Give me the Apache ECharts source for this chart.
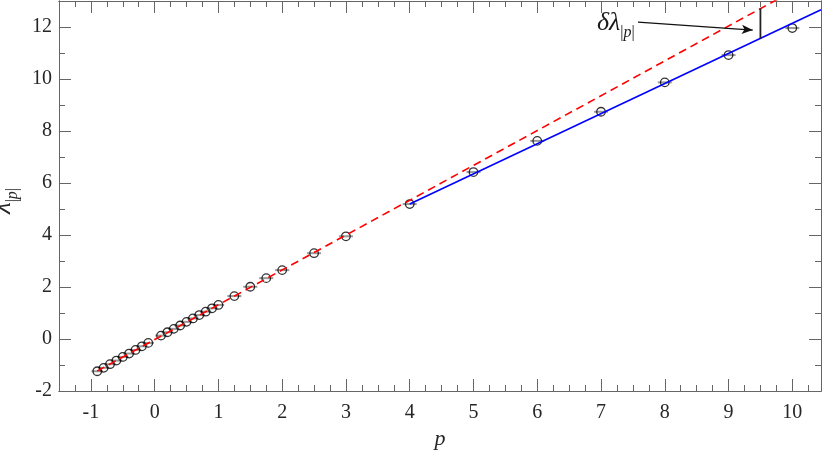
<!DOCTYPE html>
<html>
<head>
    <meta charset="UTF-8">
    <title></title>
    <style>
        html, body { margin: 0; padding: 0; background: #fff; }
        #container { width: 822px; height: 452px; }
    </style>
</head>
<body>
    <div id="container"></div>
    <script src="https://cdn.jsdelivr.net/npm/echarts@6/dist/echarts.min.js"></script>
    <script>
        // measured points
        var pValues = [-0.9, -0.8, -0.7, -0.6, -0.5, -0.4, -0.3, -0.2, -0.1,
            0.1, 0.2, 0.3, 0.4, 0.5, 0.6, 0.7, 0.8, 0.9, 1.0,
            1.25, 1.5, 1.75, 2, 2.5, 3,
            4, 5, 6, 7, 8, 9, 10];
        var lambdaValues = [-1.24, -1.11, -0.97, -0.83, -0.69, -0.56, -0.42, -0.28, -0.15,
            0.13, 0.26, 0.39, 0.52, 0.66, 0.79, 0.92, 1.05, 1.18, 1.31,
            1.65, 2.01, 2.34, 2.65, 3.30, 3.95,
            5.19, 6.42, 7.62, 8.74, 9.87, 10.92, 11.96];
        var pErrors = [0.09, 0.09, 0.09, 0.09, 0.09, 0.09, 0.09, 0.09, 0.09,
            0.09, 0.09, 0.09, 0.09, 0.09, 0.09, 0.09, 0.09, 0.09, 0.09,
            0.11, 0.11, 0.11, 0.11, 0.11, 0.11,
            0.11, 0.11, 0.11, 0.11, 0.11, 0.11, 0.11];

        // fits
        var redFitP = [-0.9, 10.45];
        var redFitLambda = [-1.23, 13.98];
        var blueFitP = [4, 10.45];
        var blueFitLambda = [5.19, 12.66];
        var deltaP = [9.5, 9.5];
        var deltaLambda = [11.56, 12.71];
        var arrowFrom = [7.58, 12.19];
        var arrowTo = [9.38, 11.88];

        // ticks
        var xTickLabels = [-1, 0, 1, 2, 3, 4, 5, 6, 7, 8, 9, 10];
        var yTickLabels = [-2, 0, 2, 4, 6, 8, 10, 12];
        var xMinorTicks = [];
        for (var t = -1.5; t <= 10.45; t += 0.25) xMinorTicks.push(t);
        var yMinorTicks = [-1, 1, 3, 5, 7, 9, 11];

        var font = '"Liberation Serif", "Times New Roman", serif';
        var axisColor = '#666';

        var points = [];
        for (var i = 0; i < pValues.length; i++) {
            points.push([pValues[i], lambdaValues[i], pErrors[i]]);
        }
        function pairs(xs, ys) {
            var out = [];
            for (var i = 0; i < xs.length; i++) out.push([xs[i], ys[i]]);
            return out;
        }

        function xAx(pos, ticks, len, labels) {
            return {
                type: 'value', position: pos, min: -1.5, max: 10.45,
                splitLine: { show: false },
                axisLine: { show: true, onZero: false, lineStyle: { color: axisColor, width: 1 } },
                axisTick: { show: true, inside: true, length: len, customValues: ticks, lineStyle: { color: axisColor } },
                axisLabel: labels ? { show: true, customValues: xTickLabels, margin: 12, color: '#262626', fontFamily: font, fontSize: 20 } : { show: false }
            };
        }
        function yAx(pos, ticks, len, labels) {
            return {
                type: 'value', position: pos, min: -2, max: 13,
                splitLine: { show: false },
                axisLine: { show: true, onZero: false, lineStyle: { color: axisColor, width: 1 } },
                axisTick: { show: true, inside: true, length: len, customValues: ticks, lineStyle: { color: axisColor } },
                axisLabel: labels ? { show: true, customValues: yTickLabels, margin: 7, color: '#262626', fontFamily: font, fontSize: 20 } : { show: false }
            };
        }

        var xAxes = [xAx('bottom', xTickLabels, 12, true), xAx('bottom', xMinorTicks, 6, false),
            xAx('top', xTickLabels, 12, false), xAx('top', xMinorTicks, 6, false)];
        xAxes[0].name = 'p';
        xAxes[0].nameLocation = 'middle';
        xAxes[0].nameGap = 33;
        xAxes[0].nameTextStyle = { fontFamily: font, fontSize: 22, fontStyle: 'italic', color: '#262626' };

        var yAxes = [yAx('left', yTickLabels, 12, true), yAx('left', yMinorTicks, 6, false),
            yAx('right', yTickLabels, 12, false), yAx('right', yMinorTicks, 6, false)];
        yAxes[0].name = '{a|λ}{b||}{c|p}{b||}';
        yAxes[0].nameLocation = 'middle';
        yAxes[0].nameRotate = 90;
        yAxes[0].nameGap = 31;
        yAxes[0].nameTextStyle = {
            padding: [0, 10, 0, 0],
            rich: {
                a: { fontFamily: font, fontSize: 27, fontStyle: 'italic', color: '#262626', lineHeight: 27, verticalAlign: 'bottom' },
                b: { fontFamily: font, fontSize: 16, color: '#262626', lineHeight: 16, verticalAlign: 'bottom', padding: [0, 0, -5, 0] },
                c: { fontFamily: font, fontSize: 16, fontStyle: 'italic', color: '#262626', lineHeight: 16, verticalAlign: 'bottom', padding: [0, 0, -5, 0] }
            }
        };

        var myChart = echarts.init(document.getElementById('container'));
        myChart.setOption({
            animation: false,
            grid: { left: 59, right: 1, top: 1, bottom: 61, outerBoundsMode: 'none' },
            xAxis: xAxes,
            yAxis: yAxes,
            graphic: [{
                type: 'text', left: 597, top: 10,
                style: {
                    text: '{d|δλ}{s||}{t|p}{s||}',
                    rich: {
                        d: { fontFamily: font, fontSize: 26, fontStyle: 'italic', fill: '#1a1a1a', lineHeight: 26, verticalAlign: 'bottom' },
                        s: { fontFamily: font, fontSize: 16, fill: '#1a1a1a', lineHeight: 16, verticalAlign: 'bottom', padding: [0, 0, -5, 0] },
                        t: { fontFamily: font, fontSize: 16, fontStyle: 'italic', fill: '#1a1a1a', lineHeight: 16, verticalAlign: 'bottom', padding: [0, 0, -5, 0] }
                    }
                }
            }],
            series: [
                {
                    type: 'custom',
                    data: points,
                    encode: { x: 0, y: 1 },
                    z: 1,
                    renderItem: function (params, api) {
                        var y = api.value(1);
                        var a = api.coord([api.value(0) - api.value(2), y]);
                        var b = api.coord([api.value(0) + api.value(2), y]);
                        return {
                            type: 'line',
                            shape: { x1: a[0], y1: a[1], x2: b[0], y2: b[1] },
                            style: { stroke: '#999', lineWidth: 2 }
                        };
                    }
                },
                {
                    type: 'scatter',
                    data: pairs(pValues, lambdaValues),
                    symbol: 'circle',
                    symbolSize: 8.5,
                    z: 2,
                    itemStyle: { color: 'rgba(0,0,0,0)', borderColor: '#000', borderWidth: 1.3 }
                },
                {
                    type: 'line',
                    data: pairs(redFitP, redFitLambda),
                    showSymbol: false,
                    clip: true,
                    z: 3,
                    lineStyle: { color: '#ff0000', width: 1.6, type: [8, 5] }
                },
                {
                    type: 'line',
                    data: pairs(blueFitP, blueFitLambda),
                    showSymbol: false,
                    clip: true,
                    z: 3,
                    lineStyle: { color: '#0000ff', width: 1.6 }
                },
                {
                    type: 'line',
                    data: pairs(deltaP, deltaLambda),
                    showSymbol: false,
                    z: 3,
                    lineStyle: { color: '#222', width: 1.8 },
                    markLine: {
                        silent: true,
                        symbol: ['none', 'arrow'],
                        symbolSize: [7, 11],
                        label: { show: false },
                        lineStyle: { color: '#111', width: 1.3, type: 'solid' },
                        data: [[{ coord: arrowFrom }, { coord: arrowTo }]]
                    }
                }
            ]
        });
    </script>
</body>
</html>
